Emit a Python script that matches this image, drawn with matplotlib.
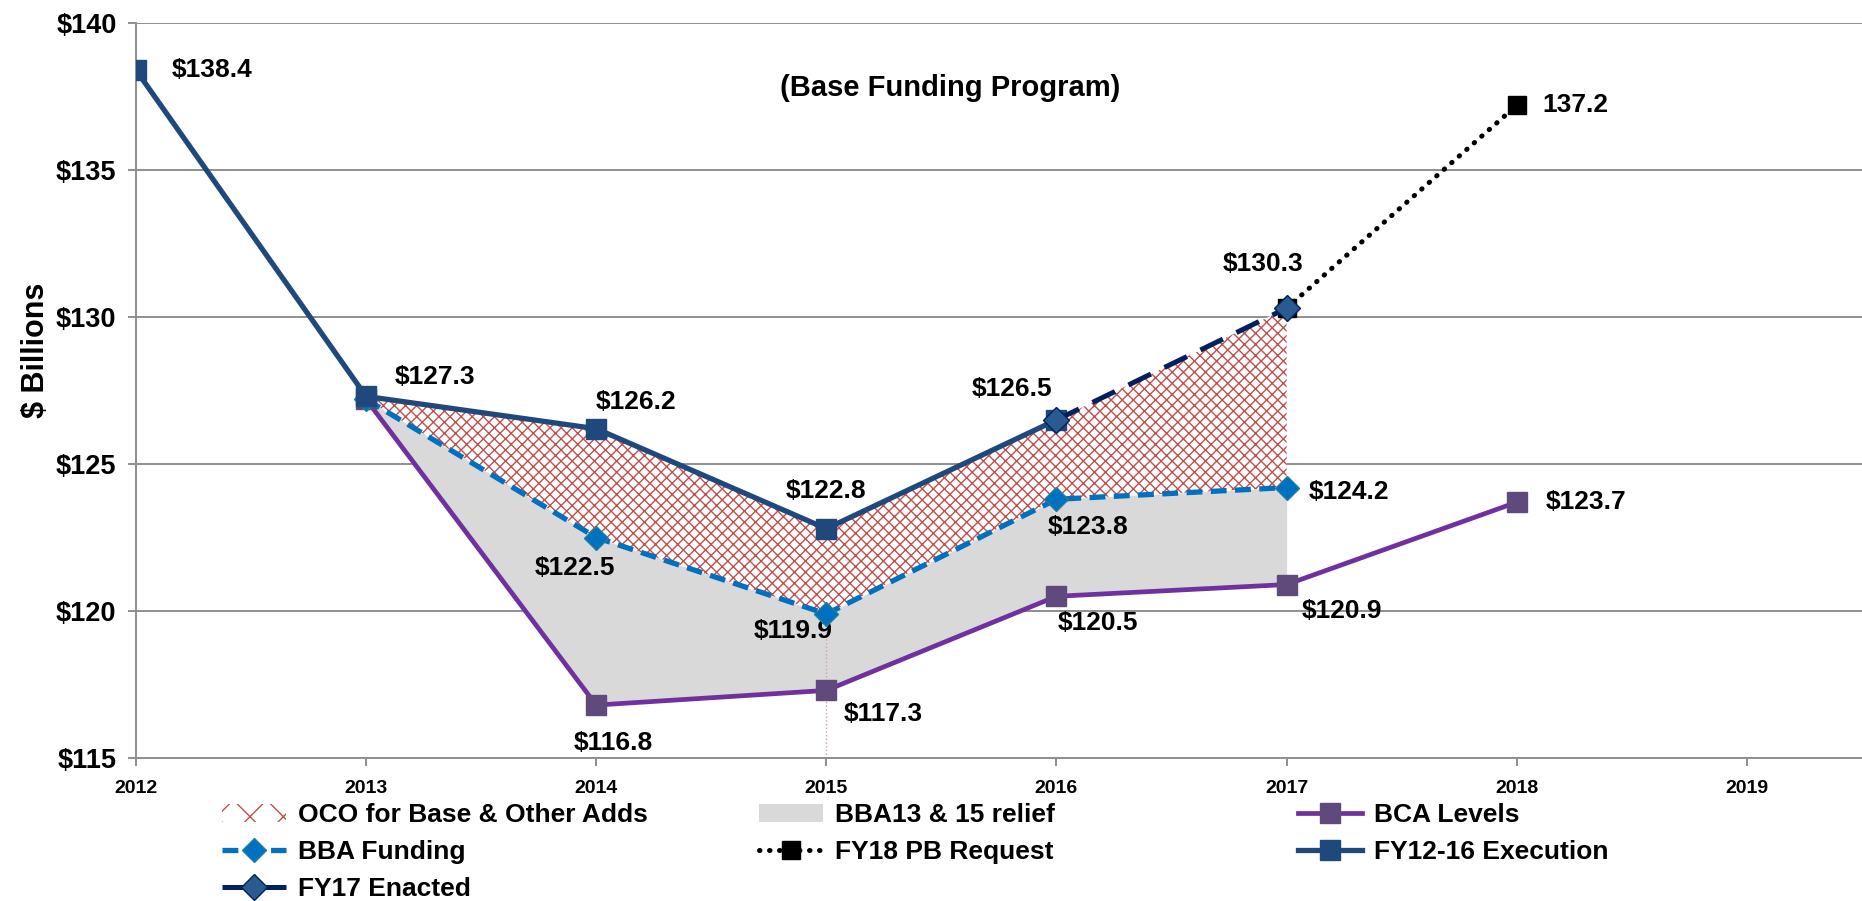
import matplotlib
matplotlib.use("Agg")
import matplotlib.pyplot as plt
from matplotlib.patches import Patch
from matplotlib.lines import Line2D

plt.rcParams['font.family'] = ['Liberation Sans', 'DejaVu Sans']
plt.rcParams['font.weight'] = 'bold'
plt.rcParams['hatch.linewidth'] = 1.0

# data ($ billions)
exec_years = [2012, 2013, 2014, 2015, 2016]
exec_vals = [138.4, 127.3, 126.2, 122.8, 126.5]
enacted_years = [2016, 2017]
enacted_vals = [126.5, 130.3]
pb_years = [2017, 2018]
pb_vals = [130.3, 137.2]
bba_years = [2013, 2014, 2015, 2016, 2017]
bba_vals = [127.2, 122.5, 119.9, 123.8, 124.2]
bca_years = [2013, 2014, 2015, 2016, 2017, 2018]
bca_vals = [127.2, 116.8, 117.3, 120.5, 120.9, 123.7]
# top edge of the OCO band (execution then enacted)
top_years = [2013, 2014, 2015, 2016, 2017]
top_vals = [127.3, 126.2, 122.8, 126.5, 130.3]

x_ticks = [2012, 2013, 2014, 2015, 2016, 2017, 2018, 2019]
y_ticks = [115, 120, 125, 130, 135, 140]
y_labels = ["$115", "$120", "$125", "$130", "$135", "$140"]

c_exec = '#1F497D'
c_enacted = '#002060'
c_bba = '#0070C0'
c_bca = '#7030A0'
c_bca_mk = '#604A7B'
c_hatch = '#C0504D'
c_gray = '#D9D9D9'
c_grid = '#8E8E8E'

fig = plt.figure(figsize=(18.62, 9.01), dpi=100)
ax = fig.add_axes([0.073, 0.1587, 0.927, 0.8158])

ax.set_xlim(2012, 2019.5)
ax.set_ylim(115, 140)
ax.set_axisbelow(True)
ax.yaxis.grid(True, color=c_grid, lw=1.4)
for s in ['top', 'right']:
    ax.spines[s].set_visible(False)
for s in ['left', 'bottom']:
    ax.spines[s].set_color(c_grid)
    ax.spines[s].set_linewidth(1.4)

# shaded bands
ax.fill_between(bba_years, bca_vals[:5], bba_vals, color=c_gray, lw=0, zorder=1)
ax.fill_between(top_years, bba_vals, top_vals, facecolor='white',
                edgecolor=c_hatch, hatch='xxx', lw=0, zorder=1)
ax.plot([bba_years[2], bba_years[2]], [115, bba_vals[2]], color='#D9A0A0',
        lw=1, ls=':', zorder=1)

# line styles
st_bca = dict(color=c_bca, lw=3.4, marker='s', ms=15, mfc=c_bca_mk, mec=c_bca_mk)
st_bba = dict(color=c_bba, lw=3.8, ls=(0, (3, 1.6)), marker='D', ms=12,
              mfc=c_bba, mec='#1F7F9F')
st_pb = dict(color='black', lw=3.6, ls=(0, (0.1, 1.9)), dash_capstyle='round',
             marker='s', ms=13, mfc='black', mec='black')
st_exec = dict(color=c_exec, lw=3.8, marker='s', ms=15, mfc=c_exec, mec=c_exec)
st_enacted = dict(color=c_enacted, lw=3.6, ls=(0, (5, 3)), marker='D', ms=13,
                  mfc='#2A5A8F', mec=c_enacted)

ax.plot(bca_years, bca_vals, zorder=3, **st_bca)
ax.plot(bba_years, bba_vals, zorder=4, **st_bba)
ax.plot(pb_years, pb_vals, zorder=5, **st_pb)
ax.plot(exec_years, exec_vals, zorder=6, **st_exec)
ax.plot(enacted_years, enacted_vals, zorder=7, **st_enacted)

# data labels
lbl_fs = 19
exec_off = [(55, 0), (50, 14), (29, 19), (0, 27), (-32, 22)]
for x, v, o in zip(exec_years, exec_vals, exec_off):
    ax.annotate("${:.1f}".format(v), (x, v), xytext=o, textcoords='offset points',
                ha='center', va='center', fontsize=lbl_fs, fontweight='bold', zorder=10)
ax.annotate("${:.1f}".format(enacted_vals[1]), (enacted_years[1], enacted_vals[1]),
            xytext=(-17, 32), textcoords='offset points', ha='center', va='center',
            fontsize=lbl_fs, fontweight='bold')
ax.annotate("{:.1f}".format(pb_vals[1]), (pb_years[1], pb_vals[1]),
            xytext=(42, 0), textcoords='offset points', ha='center', va='center',
            fontsize=lbl_fs, fontweight='bold')
bba_off = [None, (-15, -22), (-24, -12), (23, -20), (45, -3)]
for x, v, o in zip(bba_years, bba_vals, bba_off):
    if o is None:
        continue
    ax.annotate("${:.1f}".format(v), (x, v), xytext=o, textcoords='offset points',
                ha='center', va='center', fontsize=lbl_fs, fontweight='bold')
bca_off = [None, (12, -27), (41, -17), (30, -19), (40, -19), (50, 0)]
for x, v, o in zip(bca_years, bca_vals, bca_off):
    if o is None:
        continue
    ax.annotate("${:.1f}".format(v), (x, v), xytext=o, textcoords='offset points',
                ha='center', va='center', fontsize=lbl_fs, fontweight='bold')

ax.text(2015.54, 137.8, "(Base Funding Program)", ha='center', va='center',
        fontsize=21, fontweight='bold')

# axes ticks
ax.set_xticks(x_ticks)
ax.set_xticklabels([str(y) for y in x_ticks], fontsize=14, fontweight='bold')
ax.set_yticks(y_ticks)
ax.set_yticklabels(y_labels, fontsize=19.5, fontweight='bold')
ax.tick_params(axis='x', direction='out', length=6, width=1.4, color=c_grid, pad=10)
ax.tick_params(axis='y', direction='out', length=6, width=1.4, color=c_grid, pad=8)

fig.text(36 / 1862, 1 - 350 / 901, "$ Billions", rotation=90, ha='center', va='center',
         fontsize=22, fontweight='bold')

# legend, laid out in three columns like the original
h_oco = Patch(facecolor='white', edgecolor=c_hatch, hatch='x', lw=0)
h_gray = Patch(facecolor=c_gray, edgecolor='none')
h_bca = Line2D([], [], **st_bca)
h_bba = Line2D([], [], **st_bba)
h_pb = Line2D([], [], **st_pb)
h_exec = Line2D([], [], **st_exec)
h_enacted = Line2D([], [], **st_enacted)

columns = [
    ([h_oco, h_bba, h_enacted], ["OCO for Base & Other Adds", "BBA Funding", "FY17 Enacted"], 222),
    ([h_gray, h_pb], ["BBA13 & 15 relief", "FY18 PB Request"], 759),
    ([h_bca, h_exec], ["BCA Levels", "FY12-16 Execution"], 1298),
]
for hs, ls, xpx in columns:
    fig.legend(hs, ls, loc='upper left', bbox_to_anchor=(xpx / 1862, 1 - 803 / 901),
               frameon=False, borderpad=0, borderaxespad=0,
               handlelength=2.42, handletextpad=0.45, labelspacing=0.5,
               prop={'weight': 'bold', 'size': 19})

fig.savefig("out.png", dpi=100)
